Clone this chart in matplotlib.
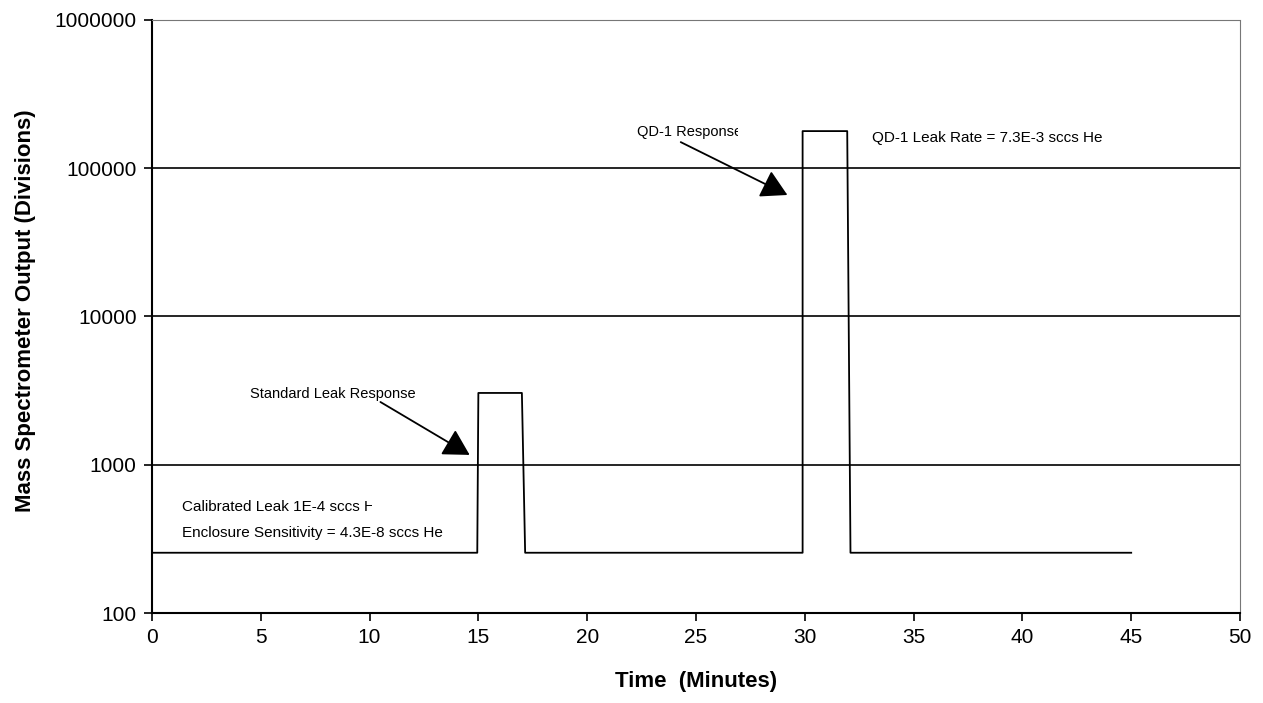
import matplotlib
matplotlib.use("Agg")
import matplotlib.pyplot as plt
from matplotlib.patches import Rectangle

plt.rcParams['font.family'] = ['Liberation Sans', 'DejaVu Sans']

# leak test trace (minutes, divisions)
time_min = [0, 14.95, 15.0, 17.0, 17.15, 29.9, 29.9, 31.95, 32.1, 45]
output_div = [255, 255, 3050, 3050, 255, 255, 178000, 178000, 255, 255]

grid_levels = [1000, 10000, 100000]
x_ticks = [0, 5, 10, 15, 20, 25, 30, 35, 40, 45, 50]
y_ticks = [100, 1000, 10000, 100000, 1000000]

fig = plt.figure(figsize=(12.63, 7.03), dpi=100)
ax = fig.add_axes([0.1203, 0.128, 0.8615, 0.8436])

ax.plot(time_min, output_div, color='black', lw=1.3)

for g in grid_levels:
    ax.axhline(g, color='black', lw=1.2, zorder=1)

ax.set_yscale('log')
ax.set_xlim(0, 50)
ax.set_ylim(100, 1000000)
ax.set_xticks(x_ticks)
ax.set_xticklabels([str(t) for t in x_ticks])
ax.set_yticks(y_ticks)
ax.set_yticklabels([str(t) for t in y_ticks])
ax.minorticks_off()
ax.tick_params(axis='both', direction='out', length=6, width=1.2,
               labelsize=15, colors='black', pad=5)

for side in ['top', 'right']:
    ax.spines[side].set_color('#777777')
    ax.spines[side].set_linestyle((0, (2, 1)))
    ax.spines[side].set_linewidth(0.8)
for side in ['left', 'bottom']:
    ax.spines[side].set_linewidth(1.5)

ax.set_xlabel('Time  (Minutes)', fontsize=16, fontweight='bold', labelpad=17)
ax.set_ylabel('Mass Spectrometer Output (Divisions)', fontsize=16,
              fontweight='bold', labelpad=16)
ax.yaxis.set_label_coords(-0.107, 0.51)

arrow = dict(arrowstyle='-|>,head_length=0.8,head_width=0.45',
             mutation_scale=20, color='black', lw=1.3, shrinkA=0, shrinkB=0)

ax.text(4.5, 3000, 'Standard Leak Response', fontsize=10.5, va='center')
ax.annotate('', xy=(14.6, 1165), xytext=(10.5, 2650), arrowprops=arrow)

t = ax.text(22.3, 175000, 'QD-1 Response', fontsize=10.5, va='center')
t.set_clip_path(Rectangle((0, 0), 0.5843, 1, transform=fig.transFigure))
t.set_clip_on(True)
ax.annotate('', xy=(29.2, 66000), xytext=(24.3, 150000), arrowprops=arrow)

ax.text(33.1, 160000, 'QD-1 Leak Rate = 7.3E-3 sccs He', fontsize=11,
        va='center')

t = ax.text(1.4, 519, 'Calibrated Leak 1E-4 sccs He', fontsize=11,
            va='center')
t.set_clip_path(Rectangle((0, 0), 0.2945, 1, transform=fig.transFigure))
t.set_clip_on(True)
ax.text(1.4, 347, 'Enclosure Sensitivity = 4.3E-8 sccs He', fontsize=11,
        va='center')

fig.savefig('out.png', dpi=100)
